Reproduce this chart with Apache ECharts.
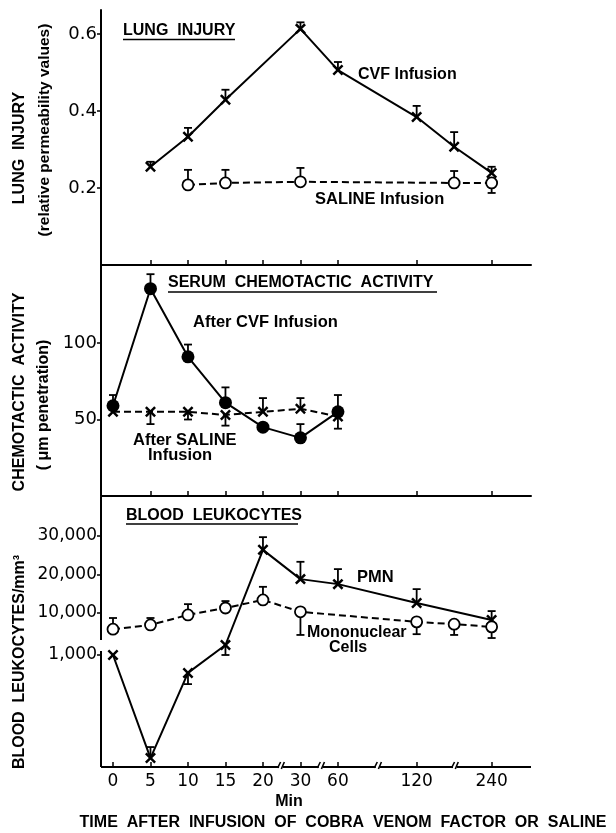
<!DOCTYPE html>
<html><head><meta charset="utf-8">
<script src="https://cdn.jsdelivr.net/npm/echarts@6/dist/echarts.min.js"></script>
<style>html,body{margin:0;padding:0;background:#fff}#c{width:616px;height:833px}</style>
</head><body><div id="c"></div>
<script>
// time points (min) and their positions along the broken time axis
const timeMin = [0, 5, 10, 15, 20, 30, 60, 120, 180, 240];
const timePos = [0, 1, 2, 3, 4, 5, 6, 8.1, 9.1, 10.1];
const tickMin = [0, 5, 10, 15, 20, 30, 60, 120, 240];

// Lung injury (relative permeability values)
const lungCVF       = [null, 0.255, 0.333, 0.429, null, 0.613, 0.506, 0.384, 0.307, 0.239];
const lungCVFErr    = [null, 0.268, 0.356, 0.455, null, 0.630, 0.527, 0.413, 0.345, 0.255];
const lungSaline    = [null, null, 0.208, 0.213, null, 0.216, null, null, 0.213, 0.213];
const lungSalineErr = [null, null, 0.247, 0.247, null, 0.252, null, null, 0.244, 0.187];
const lungTicks = [0.2, 0.4, 0.6];

// Serum chemotactic activity (um penetration)
const chemCVF       = [59, 135.5, 91, 61, 45, 38, 55, null, null, null];
const chemCVFErr    = [66, 145, 99, 71, null, 47, 66, null, null, null];
const chemSaline    = [55, 55, 55, 53, 55, 57, 52, null, null, null];
const chemSalineErr = [null, 47, 50, 46, 64, 64, 44, null, null, null];
const chemTicks = [50, 100];

// Blood leukocytes (/mm3)
const pmn     = [1000, 80, 840, 1690, 26400, 18800, 17500, 12600, null, 8200];
const pmnErr  = [null, 178, 740, 1000, 29700, 23300, 21400, 16200, null, 10500];
const mono    = [5800, 6900, 9500, 11300, 13400, 10300, null, 7700, 7100, 6400];
const monoErr = [8700, 8700, 12300, 13100, 16800, 4300, null, 4500, 4300, 3500];
const leukoTicks = [1000, 10000, 20000, 30000];

// broken leukocyte scale: 0-1000 expanded, above that linear
function leukoScale(v) { return v == null ? null : (v <= 1000 ? v * 0.112 : 115.5 + v * 0.00385); }

const XMIN = -0.32, XMAX = 11.15;
const tickPos = tickMin.map(t => timePos[timeMin.indexOf(t)]);
const xBreakGaps = [[4.43, 4.53], [5.49, 5.6], [7.01, 7.12], [9.07, 9.17]];
const yBreakGap = [116, 127];

const XSYM = 'path://M0,1.6 L1.6,0 L5,3.4 L8.4,0 L10,1.6 L6.6,5 L10,8.4 L8.4,10 L5,6.6 L1.6,10 L0,8.4 L3.4,5 Z';
const FONT = '"Liberation Sans", Arial, sans-serif';
const TFONT = '"DejaVu Sans", sans-serif';

function pts(vals, tf) {
  const out = [];
  vals.forEach((v, i) => { if (v != null) out.push([timePos[i], tf ? tf(v) : v]); });
  return out;
}
function errs(vals, ends, tf) {
  const out = [];
  vals.forEach((v, i) => { if (v != null && ends[i] != null) out.push([timePos[i], tf ? tf(v) : v, tf ? tf(ends[i]) : ends[i]]); });
  return out;
}
function errRender(params, api) {
  const x = api.value(0), y = api.value(1), e = api.value(2);
  const a = api.coord([x, y]), b = api.coord([x, e]);
  const st = { stroke: '#000', lineWidth: 1.8 };
  return { type: 'group', children: [
    { type: 'line', shape: { x1: a[0], y1: a[1], x2: b[0], y2: b[1] }, style: st },
    { type: 'line', shape: { x1: b[0] - 4, y1: b[1], x2: b[0] + 4, y2: b[1] }, style: st }
  ]};
}
function lineSeries(idx, data, symbol, size, dashed, filled) {
  return {
    type: 'line', xAxisIndex: idx, yAxisIndex: idx, data: data, z: 3,
    symbol: symbol, symbolSize: size, showSymbol: true,
    lineStyle: { color: '#000', width: 2, type: dashed ? [7, 4] : 'solid' },
    itemStyle: { color: filled ? '#000' : '#fff', borderColor: '#000', borderWidth: filled ? 0 : 1.8 },
    animation: false, silent: true
  };
}
function errSeries(idx, data) {
  return { type: 'custom', xAxisIndex: idx, yAxisIndex: idx, data: data, z: 2, renderItem: errRender, animation: false, silent: true };
}

const grids = [
  { left: 101, width: 430, top: 10, height: 255 },
  { left: 101, width: 430, top: 265, height: 231 },
  { left: 101, width: 430, top: 497, height: 270 }
];
const xAxes = grids.map((g, i) => ({
  gridIndex: i, type: 'value', min: XMIN, max: XMAX,
  axisLine: { show: i < 2, onZero: false, lineStyle: { color: '#000', width: 2 } },
  axisTick: { show: true, inside: true, length: 5, lineStyle: { color: '#000', width: 1.5 },
    customValues: i < 2 ? tickPos.filter(p => p > 0) : tickPos },
  axisLabel: { show: i === 2, customValues: tickPos, margin: 6, color: '#000', fontFamily: TFONT, fontSize: 17,
    formatter: v => { const k = tickPos.findIndex(p => Math.abs(p - v) < 1e-6); return k >= 0 ? String(tickMin[k]) : ''; } },
  splitLine: { show: false }
}));
const yAxes = [
  { gridIndex: 0, type: 'value', min: 0, max: 0.662,
    axisLine: { show: true, onZero: false, lineStyle: { color: '#000', width: 2 } },
    axisTick: { show: true, length: 4, customValues: lungTicks, lineStyle: { color: '#000', width: 1.5 } },
    axisLabel: { customValues: lungTicks, margin: 4, color: '#000', fontFamily: TFONT, fontSize: 18, formatter: v => v.toFixed(1) },
    splitLine: { show: false } },
  { gridIndex: 1, type: 'value', min: 0, max: 151,
    axisLine: { show: true, onZero: false, lineStyle: { color: '#000', width: 2 } },
    axisTick: { show: true, length: 4, customValues: chemTicks, lineStyle: { color: '#000', width: 1.5 } },
    axisLabel: { customValues: chemTicks, margin: 4, color: '#000', fontFamily: TFONT, fontSize: 18, formatter: v => String(Math.round(v)) },
    splitLine: { show: false } },
  { gridIndex: 2, type: 'value', min: 0, max: 270,
    axisLine: { show: false, onZero: false },
    axisTick: { show: true, length: 4, customValues: leukoTicks.map(leukoScale), lineStyle: { color: '#000', width: 1.5 } },
    axisLabel: { customValues: leukoTicks.map(leukoScale), margin: 4, color: '#000', fontFamily: TFONT, fontSize: 17,
      formatter: v => { const k = leukoTicks.findIndex(t => Math.abs(leukoScale(t) - v) < 0.01); return k >= 0 ? leukoTicks[k].toLocaleString('en-US') : ''; } },
    splitLine: { show: false } }
];

// broken axes of the bottom panel
const xSegs = [];
{ let s = XMIN; xBreakGaps.forEach(g => { xSegs.push([s, g[0]]); s = g[1]; }); xSegs.push([s, XMAX]); }
const ySegs = [[0, yBreakGap[0]], [yBreakGap[1], 270]];
const axisDeco = {
  type: 'custom', xAxisIndex: 2, yAxisIndex: 2, z: 1, animation: false, silent: true,
  data: [0],
  renderItem: (params, api) => {
    const ch = [];
    const st = { stroke: '#000', lineWidth: 2 };
    xSegs.forEach((s, k) => {
      const a = api.coord([s[0], 0]), b = api.coord([s[1], 0]);
      ch.push({ type: 'line', shape: { x1: a[0], y1: a[1], x2: b[0], y2: b[1] }, style: st });
      if (k > 0) ch.push({ type: 'line', shape: { x1: a[0] - 1.5, y1: a[1] + 2, x2: a[0] + 1.5, y2: a[1] - 5 }, style: { stroke: '#000', lineWidth: 1.6 } });
      if (k < xSegs.length - 1) ch.push({ type: 'line', shape: { x1: b[0] - 1.5, y1: b[1] + 1, x2: b[0] + 1.5, y2: b[1] - 5 }, style: { stroke: '#000', lineWidth: 1.6 } });
    });
    ySegs.forEach(s => {
      const a = api.coord([XMIN, s[0]]), b = api.coord([XMIN, s[1]]);
      ch.push({ type: 'line', shape: { x1: a[0], y1: a[1], x2: b[0], y2: b[1] }, style: st });
    });
    return { type: 'group', children: ch };
  }
};

function txt(text, x, y, size, extra) {
  return Object.assign({ type: 'text', x: x, y: y, silent: true,
    style: { text: text, font: 'bold ' + size + 'px ' + FONT, fill: '#000', textAlign: 'left', textVerticalAlign: 'middle' } }, extra || {});
}
function vtxt(text, x, y, size) {
  return { type: 'text', x: x, y: y, rotation: Math.PI / 2, silent: true,
    style: { text: text, font: 'bold ' + size + 'px ' + FONT, fill: '#000', textAlign: 'center', textVerticalAlign: 'middle' } };
}
function uline(x1, x2, y) {
  return { type: 'line', silent: true, shape: { x1: x1, y1: y, x2: x2, y2: y }, style: { stroke: '#000', lineWidth: 1.6 } };
}

const graphics = [
  txt('LUNG  INJURY', 123, 31, 16), uline(123, 235, 39.5),
  txt('CVF Infusion', 358, 75, 16),
  txt('SALINE Infusion', 315, 199, 16.5),
  txt('SERUM  CHEMOTACTIC  ACTIVITY', 168, 283, 16), uline(168, 437, 292),
  txt('After CVF Infusion', 193, 322, 16.5),
  txt('After SALINE', 133, 440, 16.5),
  txt('Infusion', 148, 455, 16.5),
  txt('BLOOD  LEUKOCYTES', 126, 516, 16), uline(126, 298, 524),
  txt('PMN', 357, 577, 16.5),
  txt('Mononuclear', 307, 633, 16),
  txt('Cells', 329, 648, 16),
  { type: 'text', x: 289, y: 802, silent: true, style: { text: 'Min', font: 'bold 16px ' + FONT, fill: '#000', textAlign: 'center', textVerticalAlign: 'middle' } },
  { type: 'text', x: 343, y: 823, silent: true, style: { text: 'TIME  AFTER  INFUSION  OF  COBRA  VENOM  FACTOR  OR  SALINE', font: 'bold 16px ' + FONT, fill: '#000', textAlign: 'center', textVerticalAlign: 'middle' } },
  vtxt('LUNG  INJURY', 20, 148, 16),
  vtxt('(relative permeability values)', 45, 130, 15.5),
  vtxt('CHEMOTACTIC  ACTIVITY', 20, 392, 16),
  vtxt('( μm penetration)', 44, 405, 16),
  vtxt('BLOOD  LEUKOCYTES/mm³', 20, 662, 16)
];

const chart = echarts.init(document.getElementById('c'), null, { renderer: 'canvas' });
chart.setOption({
  backgroundColor: '#fff',
  animation: false,
  grid: grids,
  xAxis: xAxes,
  yAxis: yAxes,
  graphic: graphics,
  series: [
    lineSeries(0, pts(lungCVF), XSYM, 11, false, true),
    lineSeries(0, pts(lungSaline), 'circle', 11, true, false),
    errSeries(0, errs(lungCVF, lungCVFErr)),
    errSeries(0, errs(lungSaline, lungSalineErr)),
    lineSeries(1, pts(chemCVF), 'circle', 13, false, true),
    lineSeries(1, pts(chemSaline), XSYM, 11, true, true),
    errSeries(1, errs(chemCVF, chemCVFErr)),
    errSeries(1, errs(chemSaline, chemSalineErr)),
    lineSeries(2, pts(pmn, leukoScale), XSYM, 11, false, true),
    lineSeries(2, pts(mono, leukoScale), 'circle', 11, true, false),
    errSeries(2, errs(pmn, pmnErr, leukoScale)),
    errSeries(2, errs(mono, monoErr, leukoScale)),
    axisDeco
  ]
});
</script></body></html>
